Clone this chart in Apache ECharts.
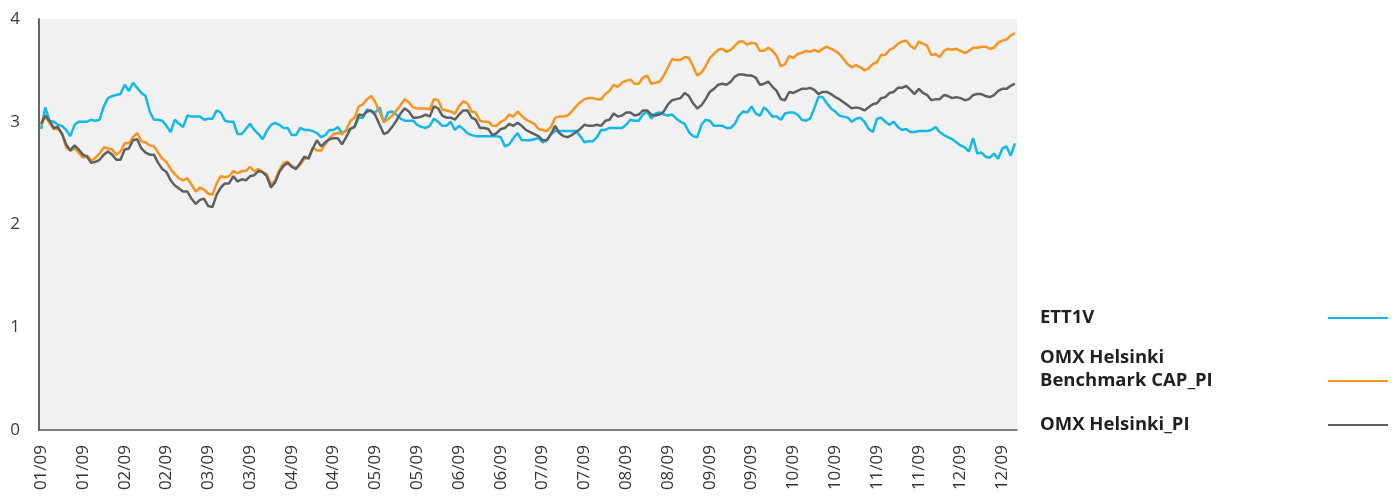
<!DOCTYPE html>
<html>
<head>
<meta charset="utf-8">
<script src="https://cdn.jsdelivr.net/npm/echarts@6/dist/echarts.min.js"></script>
<style>
  html, body { margin: 0; padding: 0; background: #fff; }
  #chart { width: 1400px; height: 497px; }
</style>
</head>
<body>
<div id="chart"></div>
<script>
// tick labels, one every 10 trading days
const tickLabels = ['01/09', '01/09', '02/09', '02/09', '03/09', '03/09', '04/09', '04/09',
  '05/09', '05/09', '06/09', '06/09', '07/09', '07/09', '08/09', '08/09',
  '09/09', '09/09', '10/09', '10/09', '11/09', '11/09', '12/09', '12/09']

const ett1v = [
  2.93, 3.14, 3.01, 3.00, 2.97, 2.96, 2.92, 2.86, 2.97, 3.00,
  3.00, 3.00, 3.02, 3.01, 3.02, 3.15, 3.23, 3.25, 3.26, 3.27,
  3.36, 3.30, 3.38, 3.33, 3.28, 3.25, 3.10, 3.02, 3.02, 3.01,
  2.96, 2.90, 3.02, 2.98, 2.95, 3.06, 3.05, 3.05, 3.05, 3.02,
  3.03, 3.03, 3.11, 3.09, 3.01, 3.00, 3.00, 2.88, 2.88, 2.93,
  2.98, 2.92, 2.88, 2.83, 2.91, 2.97, 2.99, 2.97, 2.94, 2.94,
  2.87, 2.87, 2.94, 2.92, 2.92, 2.91, 2.89, 2.85, 2.87, 2.92,
  2.92, 2.95, 2.89, 2.91, 2.93, 2.95, 3.04, 3.04, 3.12, 3.10,
  3.09, 3.14, 2.99, 3.09, 3.10, 3.07, 3.03, 3.01, 3.01, 3.01,
  2.97, 2.95, 2.94, 2.96, 3.03, 3.00, 2.96, 2.96, 3.00, 2.92,
  2.96, 2.93, 2.89, 2.87, 2.86, 2.86, 2.86, 2.86, 2.86, 2.86,
  2.85, 2.76, 2.78, 2.84, 2.89, 2.82, 2.82, 2.82, 2.83, 2.84,
  2.80, 2.82, 2.88, 2.91, 2.91, 2.91, 2.91, 2.91, 2.91, 2.86,
  2.80, 2.81, 2.81, 2.85, 2.92, 2.92, 2.94, 2.94, 2.94, 2.94,
  2.97, 3.02, 3.01, 3.01, 3.07, 3.10, 3.03, 3.08, 3.09, 3.07,
  3.06, 3.07, 3.03, 3.00, 2.98, 2.90, 2.86, 2.85, 2.97, 3.02,
  3.01, 2.96, 2.96, 2.96, 2.94, 2.94, 2.98, 3.06, 3.10, 3.09,
  3.15, 3.08, 3.06, 3.14, 3.10, 3.05, 3.05, 3.02, 3.08, 3.09,
  3.09, 3.07, 3.02, 3.01, 3.03, 3.13, 3.24, 3.24, 3.18, 3.13,
  3.10, 3.06, 3.05, 3.04, 3.00, 3.03, 3.04, 3.00, 2.93, 2.90,
  3.03, 3.04, 3.00, 2.97, 3.00, 2.95, 2.92, 2.93, 2.90, 2.90,
  2.91, 2.91, 2.91, 2.92, 2.95, 2.90, 2.87, 2.85, 2.83, 2.80,
  2.77, 2.75, 2.71, 2.84, 2.69, 2.70, 2.66, 2.65, 2.69, 2.64,
  2.74, 2.76, 2.67, 2.79
]

const omxCap = [
  2.97, 3.05, 2.99, 2.93, 2.93, 2.89, 2.75, 2.72, 2.74, 2.70,
  2.65, 2.67, 2.62, 2.65, 2.69, 2.75, 2.74, 2.73, 2.68, 2.71,
  2.79, 2.79, 2.85, 2.89, 2.81, 2.80, 2.77, 2.76, 2.70, 2.64,
  2.61, 2.54, 2.49, 2.45, 2.43, 2.45, 2.39, 2.32, 2.36, 2.34,
  2.30, 2.29, 2.40, 2.47, 2.46, 2.47, 2.52, 2.50, 2.52, 2.52,
  2.56, 2.52, 2.54, 2.51, 2.49, 2.39, 2.43, 2.53, 2.60, 2.61,
  2.57, 2.55, 2.58, 2.64, 2.65, 2.75, 2.72, 2.72, 2.78, 2.84,
  2.88, 2.89, 2.88, 2.92, 3.01, 3.04, 3.15, 3.17, 3.22, 3.25,
  3.19, 3.09, 3.00, 3.02, 3.06, 3.11, 3.16, 3.22, 3.19, 3.14,
  3.13, 3.13, 3.13, 3.12, 3.22, 3.21, 3.12, 3.11, 3.10, 3.08,
  3.15, 3.20, 3.18, 3.10, 3.09, 3.01, 3.00, 3.00, 2.96, 2.96,
  3.00, 3.02, 3.07, 3.05, 3.10, 3.06, 3.02, 3.00, 2.98, 2.93,
  2.92, 2.91, 2.95, 3.04, 3.05, 3.05, 3.06, 3.10, 3.15, 3.19,
  3.22, 3.23, 3.23, 3.22, 3.22, 3.27, 3.30, 3.36, 3.34, 3.38,
  3.40, 3.41, 3.37, 3.37, 3.43, 3.45, 3.37, 3.38, 3.39, 3.45,
  3.53, 3.61, 3.60, 3.60, 3.63, 3.62, 3.54, 3.45, 3.48, 3.54,
  3.62, 3.66, 3.70, 3.71, 3.68, 3.70, 3.74, 3.78, 3.78, 3.75,
  3.77, 3.76, 3.69, 3.69, 3.72, 3.69, 3.64, 3.54, 3.56, 3.64,
  3.62, 3.66, 3.67, 3.69, 3.68, 3.70, 3.68, 3.71, 3.73, 3.71,
  3.69, 3.66, 3.61, 3.56, 3.53, 3.55, 3.53, 3.50, 3.52, 3.56,
  3.58, 3.65, 3.65, 3.70, 3.72, 3.76, 3.78, 3.79, 3.74, 3.71,
  3.78, 3.76, 3.74, 3.65, 3.66, 3.63, 3.69, 3.71, 3.70, 3.71,
  3.69, 3.67, 3.69, 3.72, 3.72, 3.73, 3.73, 3.71, 3.72, 3.77,
  3.79, 3.80, 3.84, 3.86
]

const omxPi = [
  2.98, 3.06, 3.01, 2.94, 2.95, 2.88, 2.78, 2.72, 2.77, 2.73,
  2.68, 2.66, 2.60, 2.61, 2.63, 2.68, 2.71, 2.68, 2.63, 2.63,
  2.73, 2.74, 2.82, 2.83, 2.74, 2.70, 2.68, 2.68, 2.60, 2.54,
  2.51, 2.43, 2.38, 2.35, 2.32, 2.32, 2.25, 2.20, 2.24, 2.25,
  2.18, 2.17, 2.29, 2.36, 2.40, 2.40, 2.47, 2.42, 2.44, 2.43,
  2.47, 2.48, 2.52, 2.51, 2.47, 2.36, 2.41, 2.51, 2.57, 2.60,
  2.56, 2.54, 2.60, 2.66, 2.64, 2.74, 2.82, 2.76, 2.80, 2.83,
  2.84, 2.84, 2.78, 2.85, 2.93, 2.95, 3.07, 3.06, 3.10, 3.11,
  3.06, 2.97, 2.88, 2.90, 2.95, 3.01, 3.08, 3.13, 3.10, 3.04,
  3.04, 3.05, 3.07, 3.05, 3.15, 3.13, 3.06, 3.04, 3.04, 3.02,
  3.07, 3.11, 3.11, 3.04, 3.02, 2.94, 2.94, 2.93, 2.87, 2.89,
  2.93, 2.94, 2.98, 2.96, 2.99, 2.96, 2.92, 2.90, 2.88, 2.86,
  2.82, 2.82, 2.88, 2.96, 2.89, 2.86, 2.85, 2.87, 2.90, 2.93,
  2.97, 2.96, 2.96, 2.97, 2.96, 3.01, 3.02, 3.08, 3.05, 3.06,
  3.09, 3.09, 3.06, 3.07, 3.11, 3.11, 3.07, 3.06, 3.07, 3.10,
  3.17, 3.21, 3.22, 3.23, 3.28, 3.25, 3.18, 3.13, 3.16, 3.22,
  3.29, 3.32, 3.36, 3.37, 3.36, 3.39, 3.44, 3.46, 3.46, 3.45,
  3.45, 3.43, 3.36, 3.37, 3.39, 3.34, 3.30, 3.22, 3.21, 3.29,
  3.28, 3.30, 3.32, 3.32, 3.33, 3.31, 3.27, 3.29, 3.29, 3.27,
  3.24, 3.22, 3.19, 3.16, 3.13, 3.14, 3.13, 3.11, 3.14, 3.17,
  3.18, 3.23, 3.24, 3.28, 3.29, 3.33, 3.33, 3.35, 3.31, 3.27,
  3.32, 3.28, 3.26, 3.21, 3.22, 3.22, 3.26, 3.25, 3.23, 3.24,
  3.23, 3.21, 3.22, 3.26, 3.27, 3.27, 3.25, 3.24, 3.26, 3.30,
  3.32, 3.32, 3.35, 3.37
]

const categories = ett1v.map((v, i) => tickLabels[Math.floor(i / 10)])

// one legend block per series so each can sit where the original has it
function legendBlock (name, top, lines) {
  return {
    orient: 'vertical',
    left: 1035,
    top: top,
    align: 'right',
    itemWidth: 60,
    itemHeight: 2,
    icon: 'rect',
    data: [name],
    formatter: () => lines.map(l => '{n|' + l + '}').join('\n'),
    textStyle: {
      rich: {
        n: {
          width: 283,
          align: 'left',
          fontFamily: 'Open Sans',
          fontWeight: 'bold',
          fontSize: 18.5,
          lineHeight: 23,
          color: '#231f20'
        }
      }
    }
  }
}

const chart = echarts.init(document.getElementById('chart'))
const option = {
  animation: false,
  grid: {
    left: 39,
    right: 383,
    top: 19,
    bottom: 67,
    show: true,
    backgroundColor: '#f1f1f1',
    borderWidth: 0
  },
  legend: [
    legendBlock('ETT1V', 303.5, ['ETT1V']),
    legendBlock('OMX Helsinki Benchmark CAP_PI', 343.5, ['OMX Helsinki', 'Benchmark CAP_PI', ' ']),
    legendBlock('OMX Helsinki_PI', 410.5, ['OMX Helsinki_PI'])
  ],
  xAxis: {
    type: 'category',
    data: categories,
    boundaryGap: true,
    axisLine: { lineStyle: { color: '#555', width: 1.5 } },
    axisTick: { show: false },
    axisLabel: {
      interval: 9,
      rotate: 90,
      margin: 15,
      fontFamily: 'Open Sans',
      fontSize: 17,
      color: '#333'
    }
  },
  yAxis: {
    type: 'value',
    min: 0,
    max: 4,
    interval: 1,
    axisLine: { show: true, lineStyle: { color: '#666', width: 2 } },
    axisTick: { show: false },
    splitLine: { show: false },
    axisLabel: {
      margin: 19,
      fontFamily: 'Open Sans',
      fontSize: 17,
      color: '#3a3a3a'
    }
  },
  series: [
    {
      name: 'ETT1V',
      type: 'line',
      data: ett1v,
      showSymbol: false,
      color: '#12b8e9',
      lineStyle: { width: 2.5 }
    },
    {
      name: 'OMX Helsinki Benchmark CAP_PI',
      type: 'line',
      data: omxCap,
      showSymbol: false,
      color: '#f7941d',
      lineStyle: { width: 2.5 }
    },
    {
      name: 'OMX Helsinki_PI',
      type: 'line',
      data: omxPi,
      showSymbol: false,
      color: '#5d5f61',
      lineStyle: { width: 2.5 }
    }
  ]
}
chart.setOption(option)
</script>
</body>
</html>
